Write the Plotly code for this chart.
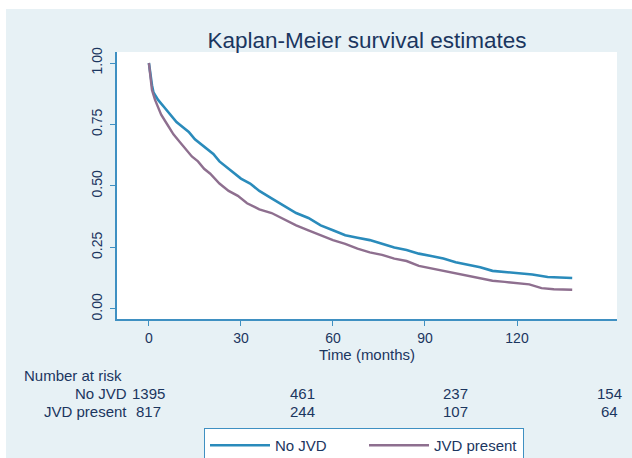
import plotly.graph_objects as go

# Kaplan-Meier estimates (time in months, survival probability)
t_no_jvd = [0, 0.5, 1, 1.5, 3, 5, 7, 9, 11, 13, 15, 17, 19, 21, 23, 25, 27, 30,
            33, 36, 40, 44, 48, 52, 56, 60, 64, 68, 72, 76, 80, 84, 88, 92, 96,
            100, 104, 108, 112, 116, 120, 125, 130, 134, 138]
s_no_jvd = [1.00, 0.95, 0.91, 0.88, 0.85, 0.82, 0.79, 0.76, 0.74, 0.72, 0.69,
            0.67, 0.65, 0.63, 0.60, 0.58, 0.56, 0.53, 0.51, 0.48, 0.45, 0.42,
            0.39, 0.37, 0.34, 0.32, 0.30, 0.29, 0.28, 0.265, 0.25, 0.24, 0.225,
            0.215, 0.205, 0.19, 0.18, 0.17, 0.155, 0.15, 0.145, 0.14, 0.13,
            0.128, 0.126]

t_jvd = [0, 0.5, 1, 2, 4, 6, 8, 10, 12, 14, 16, 18, 20, 23, 26, 29, 32, 36,
         40, 44, 48, 52, 56, 60, 64, 68, 72, 76, 80, 84, 88, 92, 96, 100, 104,
         108, 112, 116, 120, 124, 128, 132, 138]
s_jvd = [1.00, 0.94, 0.89, 0.85, 0.79, 0.75, 0.71, 0.68, 0.65, 0.62, 0.60,
         0.57, 0.55, 0.51, 0.48, 0.46, 0.43, 0.405, 0.39, 0.365, 0.34, 0.32,
         0.30, 0.28, 0.265, 0.245, 0.23, 0.22, 0.205, 0.195, 0.175, 0.165,
         0.155, 0.145, 0.135, 0.125, 0.115, 0.11, 0.105, 0.10, 0.085, 0.08,
         0.078]

# Number-at-risk table
risk_times = [0, 50, 100, 150]
risk_no_jvd = [1395, 461, 237, 154]
risk_jvd = [817, 244, 107, 64]

x_ticks = [0, 30, 60, 90, 120]
y_ticks = [0.0, 0.25, 0.5, 0.75, 1.0]

BG = "#e7f1f5"
TXT = "#1b365f"
AXC = "#3f90c2"
BLUE = "#2a8bbb"
MAUVE = "#8e6f8f"
FONT = "Liberation Sans, Arial, sans-serif"

W, H = 632, 458
ML, MR, MT, MB = 117, 15, 52, 139
PW, PH = W - ML - MR, H - MT - MB


def px_x(p):
    return (p - ML) / PW


def px_y(p):
    return (H - MB - p) / PH


fig = go.Figure()
fig.add_trace(go.Scatter(x=t_no_jvd, y=s_no_jvd, mode="lines", name="No JVD",
                         line=dict(color=BLUE, width=2.6)))
fig.add_trace(go.Scatter(x=t_jvd, y=s_jvd, mode="lines", name="JVD present",
                         line=dict(color=MAUVE, width=2.4)))

tfont = dict(size=15, color=TXT, family=FONT)
annotations = []
annotations.append(dict(text="Number at risk", xref="paper", yref="paper",
                        x=px_x(22), y=px_y(375), xanchor="left", yanchor="middle",
                        showarrow=False, font=tfont))
for label, counts, ypix in [("No JVD", risk_no_jvd, 393), ("JVD present", risk_jvd, 411)]:
    annotations.append(dict(text=label, xref="paper", yref="paper",
                            x=px_x(129), y=px_y(ypix), xanchor="right", yanchor="middle",
                            showarrow=False, font=tfont))
    for tt, n in zip(risk_times, counts):
        annotations.append(dict(text=str(n), xref="x", yref="paper",
                                x=tt, y=px_y(ypix), xanchor="center", yanchor="middle",
                                showarrow=False, font=tfont))

shapes = [
    # white frame strips along the top and left edges
    dict(type="rect", xref="paper", yref="paper", x0=px_x(0), x1=px_x(6),
         y0=px_y(H), y1=px_y(0), fillcolor="white", line=dict(width=0), layer="below"),
    dict(type="rect", xref="paper", yref="paper", x0=px_x(0), x1=px_x(W),
         y0=px_y(9), y1=px_y(0), fillcolor="white", line=dict(width=0), layer="below"),
]

fig.update_layout(
    width=W, height=H,
    margin=dict(l=ML, r=MR, t=MT, b=MB),
    paper_bgcolor=BG, plot_bgcolor="white",
    font=dict(family=FONT, color=TXT, size=14),
    title=dict(text="Kaplan-Meier survival estimates", x=367 / W, xanchor="center",
               xref="container", y=1 - 40 / H, yanchor="middle",
               font=dict(size=22.5, color=TXT, family=FONT)),
    xaxis=dict(range=[-10.4, 152.6], tickvals=x_ticks, ticks="outside", ticklen=5,
               tickcolor=AXC, showline=True, linecolor=AXC, linewidth=1.5,
               showgrid=False, zeroline=False, tickfont=dict(size=14, color=TXT),
               ticklabelstandoff=0,
               title=dict(text="Time (months)", standoff=4, font=tfont)),
    yaxis=dict(range=[-0.0407, 1.0447], tickvals=y_ticks, tickformat=".2f",
               ticks="outside", ticklen=5, tickcolor=AXC, tickangle=-90,
               showline=True, linecolor=AXC, linewidth=1.5, showgrid=False,
               zeroline=False, tickfont=dict(size=14, color=TXT),
               ticklabelstandoff=3),
    legend=dict(orientation="h", xref="container", yref="container",
                x=364 / W, xanchor="center", y=1 - 428 / H, yanchor="top",
                bgcolor="white", bordercolor=AXC, borderwidth=1,
                font=tfont, entrywidth=84, itemwidth=60),
    annotations=annotations,
    shapes=shapes,
)

fig.write_html("out.html")
